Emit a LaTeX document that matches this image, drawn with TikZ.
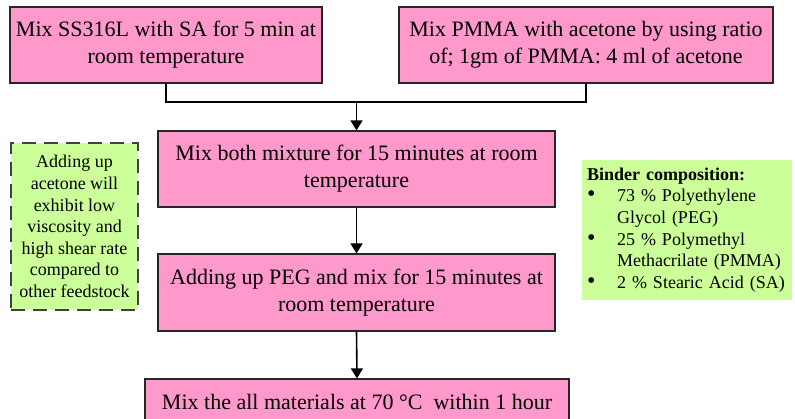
\documentclass[tikz,border=0pt]{standalone}
\usepackage{fontspec}
\setmainfont{Liberation Serif}
\usetikzlibrary{arrows.meta,positioning,calc}
\definecolor{stepPink}{RGB}{255,153,204}
\definecolor{noteGreen}{RGB}{204,255,153}
\newcommand{\bulitem}{\makebox[15pt][l]{\fontsize{12}{10}\selectfont\textbullet}}

\begin{document}
\begin{tikzpicture}[
  x=0.5pt, y=-0.5pt,
  font=\fontsize{11}{13.5}\selectfont,
  >={Triangle[length=5pt, width=6pt]},
  stepbox/.style={draw=black!85, line width=0.6pt, fill=stepPink, align=center,
                  inner sep=2pt},
  notebox/.style={fill=noteGreen, align=center, inner sep=2pt,
                  font=\fontsize{9}{10.8}\selectfont},
  flow/.style={->, line width=0.8pt},
  merger/.style={line width=0.8pt},
]
\useasboundingbox (0,0) rectangle (795,418);

% ---- process steps -----------------------------------------------------------
\node[stepbox, minimum width=156pt, minimum height=38pt] (mixss) at (166,45)
  {Mix SS316L with SA for 5 min at\\room temperature};
\node[stepbox, minimum width=187pt, minimum height=38pt] (mixpm) at (586,45)
  {Mix PMMA with acetone by using ratio\\of; 1gm of PMMA: 4 ml of acetone};
\node[stepbox, minimum width=198.5pt, minimum height=38pt] (both) at (356.5,169)
  {Mix both mixture for 15 minutes at room\\temperature};
\node[stepbox, minimum width=198.5pt, minimum height=38.5pt] (peg) at (356.5,292.5)
  {Adding up PEG and mix for 15 minutes at\\room temperature};
\node[stepbox, minimum width=212pt, minimum height=23pt] (heat) at (357,402)
  {Mix the all materials at 70 \textdegree C\ \ within 1 hour};

% ---- side notes ---------------------------------------------------------------
\node[notebox, draw=black!75, line width=1pt, dash pattern=on 7pt off 4pt,
      minimum width=63.5pt, minimum height=83.5pt] (acetone) at (74.5,226.5)
  {Adding up\\acetone will\\exhibit low\\viscosity and\\high shear rate\\compared to\\other feedstock};
\node[notebox, align=left, minimum width=105pt, minimum height=70pt,
      text width=100pt] (binder) at (687,230)
  {\textbf{Binder composition:}\\
   \bulitem 73 \% Polyethylene\\
   \hspace*{15pt}Glycol (PEG)\\
   \bulitem 25 \% Polymethyl\\
   \hspace*{15pt}Methacrilate (PMMA)\\
   \bulitem 2 \% Stearic Acid (SA)};

% ---- connectors ---------------------------------------------------------------
\coordinate (merge) at (both.north |- 0,102);
\draw[merger] (mixss.south) |- (merge) -| (mixpm.south);
\draw[flow] (merge) -- (both.north);
\draw[flow] (both.south) -- (peg.north);
\draw[flow] (peg.south) -- (heat.north);
\end{tikzpicture}
\end{document}
